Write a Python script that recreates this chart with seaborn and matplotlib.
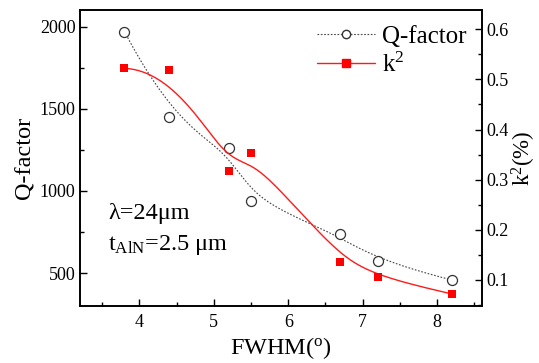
import numpy as np
import pandas as pd
import matplotlib
matplotlib.use("Agg")
import matplotlib.pyplot as plt
import seaborn as sns
from matplotlib.lines import Line2D
from matplotlib.ticker import MultipleLocator

# ---- data ----
fwhm = [3.8, 4.4, 5.2, 5.5, 6.7, 7.2, 8.2]
q_factor = [1970, 1452, 1264, 940, 736, 573, 458]
k2 = [0.522, 0.518, 0.318, 0.354, 0.136, 0.106, 0.072]

sns.set_theme(style="ticks")
plt.rcParams["font.family"] = ["Liberation Serif", "DejaVu Serif"]
plt.rcParams["mathtext.fontset"] = "custom"
plt.rcParams["mathtext.rm"] = "Liberation Serif"
plt.rcParams["mathtext.it"] = "Liberation Serif:italic"
plt.rcParams["text.color"] = "black"
plt.rcParams["axes.labelcolor"] = "black"
plt.rcParams["xtick.color"] = "black"
plt.rcParams["ytick.color"] = "black"


def bspline(xs, ys, n=300, k=3):
    """Clamped B-spline using the data points as control points (Origin style)."""
    P = np.column_stack([xs, ys]).astype(float)
    m = len(P)
    inner = np.arange(1, m - k) / (m - k)
    t = np.concatenate([np.zeros(k + 1), inner, np.ones(k + 1)])
    u = np.linspace(0, 1, n)
    u[-1] = 1 - 1e-12
    B = np.zeros((n, len(t) - 1))
    for i in range(len(t) - 1):
        B[:, i] = ((u >= t[i]) & (u < t[i + 1])).astype(float)
    for d in range(1, k + 1):
        Bn = np.zeros((n, len(t) - 1 - d))
        for i in range(len(t) - 1 - d):
            a = 0.0
            if t[i + d] != t[i]:
                a = (u - t[i]) / (t[i + d] - t[i]) * B[:, i]
            b = 0.0
            if t[i + d + 1] != t[i + 1]:
                b = (t[i + d + 1] - u) / (t[i + d + 1] - t[i + 1]) * B[:, i + 1]
            Bn[:, i] = a + b
        B = Bn
    C = B @ P
    return C[:, 0], C[:, 1]


df = pd.DataFrame({"FWHM": fwhm, "Q": q_factor, "k2": k2})

fig = plt.figure(figsize=(5.39, 3.63), dpi=100)
ax = fig.add_axes([0.148, 0.157, 0.746, 0.815])
ax2 = ax.twinx()

qx, qy = bspline(fwhm, q_factor)
kx, ky = bspline(fwhm, k2)

ax.plot(qx, qy, color="#444444", lw=0.8, ls=(0, (1.5, 1.5)))
sns.scatterplot(data=df, x="FWHM", y="Q", ax=ax, marker="o", s=52,
                facecolor="white", edgecolor="#333333", linewidth=0.9, zorder=3)

ax2.plot(kx, ky, color="#ff1a1a", lw=1.0)
sns.scatterplot(data=df, x="FWHM", y="k2", ax=ax2, marker="s", s=38,
                color="#ff0000", edgecolor="#ff0000", linewidth=0, zorder=3)

ax.set_xlim(3.2, 8.6)
ax.set_ylim(300, 2100)
ax2.set_ylim(0.048, 0.638)

ax.xaxis.set_major_locator(MultipleLocator(1))
ax.xaxis.set_minor_locator(MultipleLocator(0.5))
ax.yaxis.set_major_locator(MultipleLocator(500))
ax.yaxis.set_minor_locator(MultipleLocator(250))
ax2.yaxis.set_major_locator(MultipleLocator(0.1))
ax2.yaxis.set_minor_locator(MultipleLocator(0.05))

for a in (ax, ax2):
    a.tick_params(which="major", direction="in", length=5, width=1, labelsize=13,
                  colors="black")
    a.tick_params(which="minor", direction="in", length=3, width=1)
    for s in a.spines.values():
        s.set_linewidth(1.2)
        s.set_color("black")
ax.tick_params(axis="y", right=False, pad=3)
ax2.tick_params(axis="y", left=False, pad=3)
ax.tick_params(axis="x", top=False, pad=6)

ax.set_xlabel("FWHM($^{\\mathrm{o}}$)", fontsize=17.5, labelpad=3)
ax.set_ylabel("Q-factor", fontsize=17.5, labelpad=3)
ax2.set_ylabel("k$^{2}$(%)", fontsize=16.5, labelpad=1)

ax.text(0.07, 0.295, "λ=24μm", transform=ax.transAxes, fontsize=17.5)
ax.text(0.07, 0.19, "t$_{\\mathrm{AlN}}$=2.5 μm", transform=ax.transAxes, fontsize=17.5)

handles = [
    Line2D([], [], color="#444444", lw=0.8, ls=(0, (1.5, 1.5)), marker="o",
           markersize=6, markerfacecolor="white", markeredgecolor="#333333"),
    Line2D([], [], color="#ff1a1a", lw=1.0, marker="s", markersize=6,
           markerfacecolor="#ff0000", markeredgecolor="#ff0000"),
]
ax2.legend(handles, ["Q-factor", "k$^{2}$"], loc="upper right", frameon=False,
           fontsize=18, handlelength=2.3, handletextpad=0.3, labelspacing=0.2,
           borderaxespad=0.2)

fig.savefig("out.png", dpi=100, facecolor="white")
